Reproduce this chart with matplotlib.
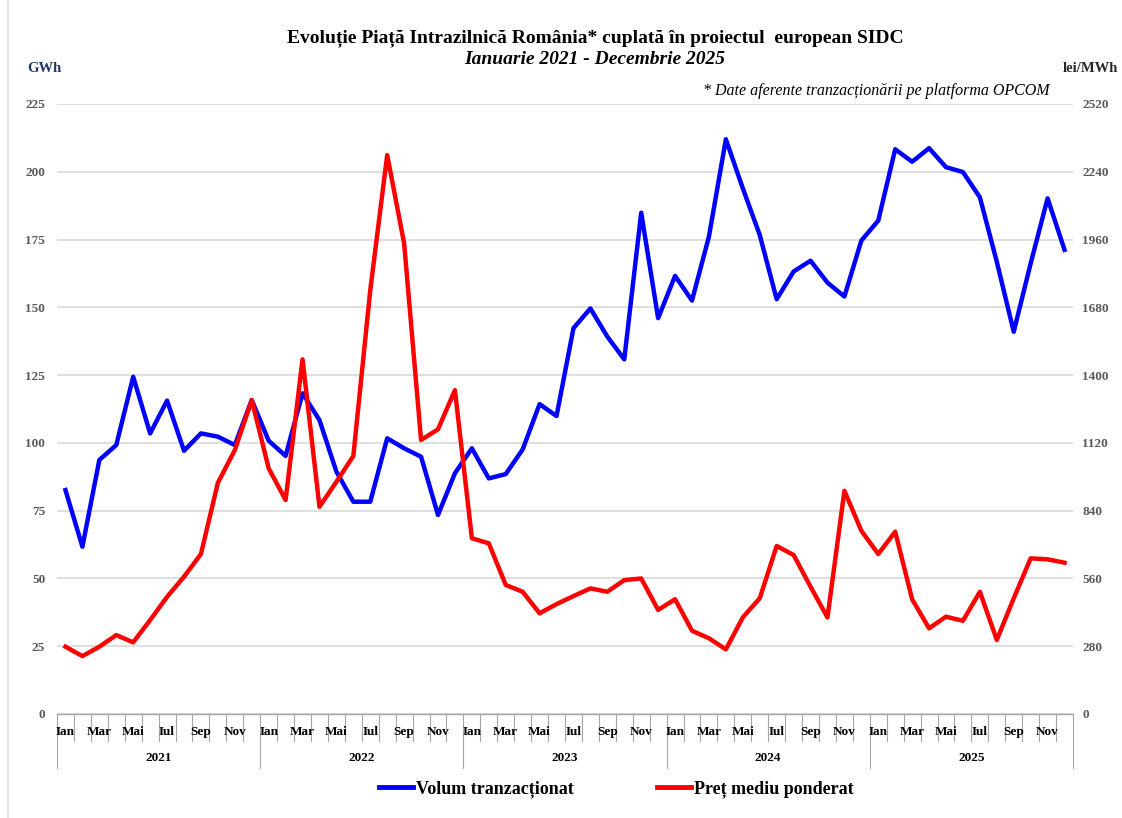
import numpy as np
import matplotlib
matplotlib.use("Agg")
import matplotlib.pyplot as plt
import matplotlib.transforms as mtransforms
from matplotlib.lines import Line2D

plt.rcParams['font.family'] = ['Liberation Serif', 'DejaVu Serif']

# date lunare ian 2021 - dec 2025
years = ['2021', '2022', '2023', '2024', '2025']
month_labels = ['Ian', '', 'Mar', '', 'Mai', '', 'Iul', '', 'Sep', '', 'Nov', '']

volum = [82.6, 61.7, 93.7, 99.2, 124.4, 103.5, 115.6, 97.1, 103.5, 102.3, 99.2, 115.8,
         100.8, 95.2, 118.3, 108.4, 89.4, 78.3, 78.3, 101.7, 98.0, 94.9, 73.4, 88.8,
         98.0, 86.9, 88.5, 97.6, 114.3, 109.9, 142.3, 149.6, 139.2, 130.8, 184.9, 146.0,
         161.6, 152.5, 176.1, 212.0, 193.9, 176.7, 153.0, 163.2, 167.2, 159.1, 154.0, 174.6,
         182.0, 208.3, 203.7, 208.7, 201.7, 199.9, 190.6, 166.8, 141.0, 166.2, 190.2, 171.2]

pret = [278, 239, 278, 326, 296, 388, 484, 567, 661, 955, 1090, 1297,
        1015, 884, 1465, 856, 959, 1066, 1751, 2309, 1944, 1132, 1176, 1338,
        726, 705, 533, 505, 416, 454, 487, 519, 505, 553, 560, 430,
        474, 344, 313, 267, 399, 478, 694, 657, 526, 399, 922, 757,
        661, 753, 474, 354, 402, 385, 505, 306, 478, 643, 639, 625]

n = len(volum)
x = np.arange(n) + 0.5

fig = plt.figure(figsize=(11.22, 8.18), dpi=100)
ax = fig.add_axes([57/1122, 1 - 714/818, 1016/1122, 610/818])
ax2 = ax.twinx()

gray = '#595959'
ax.set_xlim(0, n)
ax.set_ylim(0, 225)
ax.set_yticks(np.arange(0, 226, 25))
ax2.set_ylim(0, 2520)
ax2.set_yticks(np.arange(0, 2521, 280))
ax.grid(axis='y', color='#d9d9d9', linewidth=1.2)
ax.set_axisbelow(True)

for a in (ax, ax2):
    for s in ('top', 'left', 'right', 'bottom'):
        a.spines[s].set_visible(False)
ax.tick_params(axis='y', length=0, pad=8.5, labelsize=9.5, labelcolor=gray)
ax2.tick_params(axis='y', length=0, pad=6.5, labelsize=9.5, labelcolor=gray)
for lab in ax.get_yticklabels() + ax2.get_yticklabels():
    lab.set_fontweight('bold')
ax.set_xticks([])

ax.plot(x, volum, color='#0000ff', linewidth=3.2, solid_joinstyle='round', zorder=3)
ax2.plot(x, pret, color='#ff0000', linewidth=3.2, solid_joinstyle='round', zorder=3)

# axa x pe doua nivele
trans = mtransforms.blended_transform_factory(ax.transData, ax.transAxes)
axcol = '#a6a6a6'
ax.plot([0, n], [0, 0], transform=trans, color=axcol, lw=1, clip_on=False)
for i in range(n + 1):
    y_end = -0.0885 if i % 12 == 0 else -0.0443
    ax.plot([i, i], [0, y_end], transform=trans, color=axcol, lw=0.8, clip_on=False)
for i in range(n):
    lab = month_labels[i % 12]
    if lab:
        ax.text(i + 0.5, -0.0295, lab, transform=trans, ha='center', va='center',
                fontsize=9.5, fontweight='bold', color='black')
for k, yr in enumerate(years):
    ax.text(k * 12 + 6, -0.072, yr, transform=trans, ha='center', va='center',
            fontsize=9.5, fontweight='bold', color='black')

# texte
fig.text(595/1122, 1 - 38/818, 'Evoluție Piață Intrazilnică România* cuplată în proiectul  european SIDC',
         ha='center', va='center', fontsize=14, fontweight='bold')
fig.text(595/1122, 1 - 60/818, 'Ianuarie 2021 - Decembrie 2025', ha='center', va='center',
         fontsize=14, fontweight='bold', style='italic')
fig.text(27/1122, 1 - 68/818, 'GWh', ha='left', va='center', fontsize=10.5,
         fontweight='bold', color='#1f3864')
fig.text(1118/1122, 1 - 68/818, 'lei/MWh', ha='right', va='center', fontsize=10.5,
         fontweight='bold', color='#262626')
fig.text(1050/1122, 1 - 91/818, '* Date aferente tranzacționării pe platforma OPCOM',
         ha='right', va='center', fontsize=11.5, style='italic')

# chenar stanga
fig.add_artist(Line2D([8/1122, 8/1122], [0, 1], color='#d9d9d9', lw=1.2))

handles = [Line2D([], [], color='#0000ff', lw=3.5), Line2D([], [], color='#ff0000', lw=3.5)]
fig.legend(handles, ['Volum tranzacționat', 'Preț mediu ponderat'], loc='center',
           bbox_to_anchor=(616/1122, 1 - 789/818), ncol=2, frameon=False, handlelength=1.9,
           handletextpad=0.15, columnspacing=4.6, prop={'weight': 'bold', 'size': 13})

fig.savefig('out.png', dpi=100)
